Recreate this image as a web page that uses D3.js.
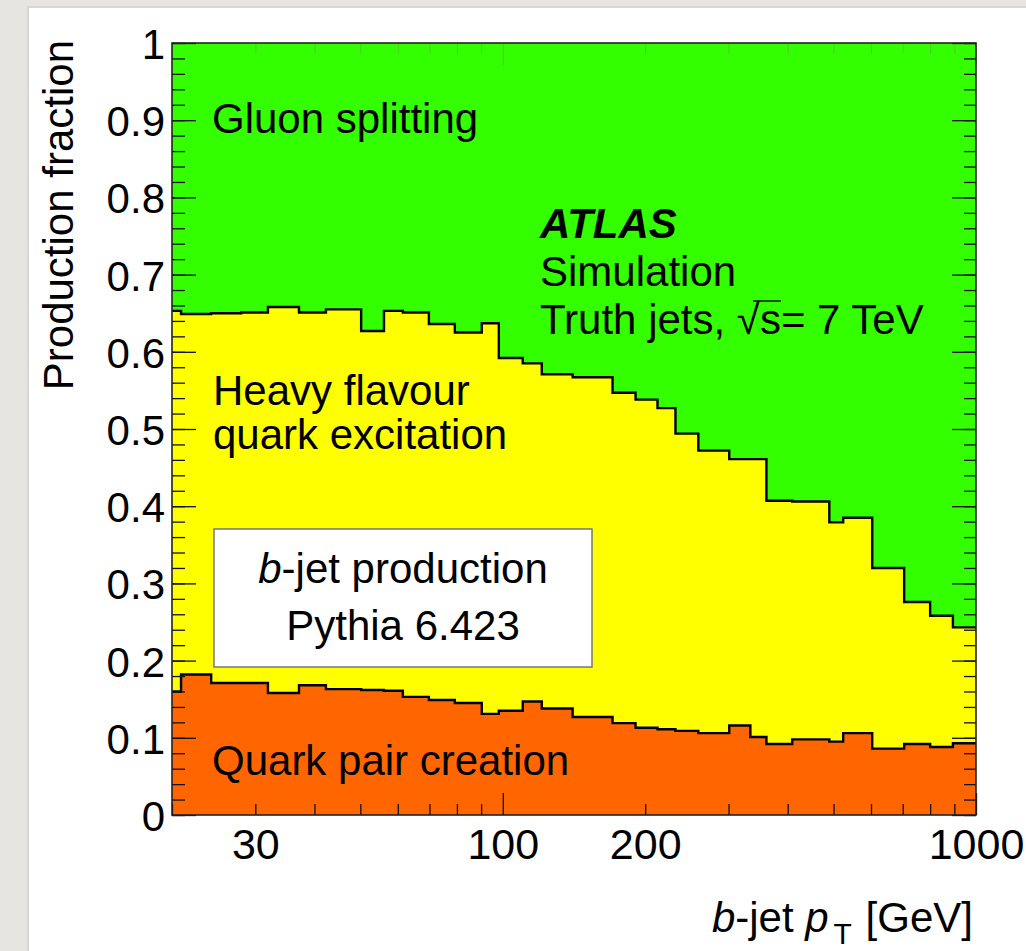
<!DOCTYPE html>
<html>
<head>
<meta charset="utf-8">
<script src="https://cdn.jsdelivr.net/npm/d3@7"></script>
<style>
body { margin: 0; background: #e7e5e1; }
svg { display: block; font-family: "Liberation Sans", Arial, Helvetica, sans-serif; }
</style>
</head>
<body>
<div class="chart"></div>
<script>
// bin edges in GeV (variable width)
var binEdges = [20, 20.9, 24.2, 28, 31.9, 37.1, 42.3, 50.2, 56.1, 61.5, 69.8, 79.2, 90.3, 98.1,
    110.2, 120.9, 140.5, 170.6, 190.8, 212.3, 231.7, 259, 301, 333.6, 360.7, 409, 489.8, 524,
    603.6, 705, 800, 893.8, 1000];

// production fractions per bin
var quarkPair = [0.160, 0.182, 0.171, 0.171, 0.158, 0.168, 0.163, 0.162, 0.161, 0.153, 0.149,
    0.145, 0.131, 0.135, 0.147, 0.138, 0.127, 0.119, 0.113, 0.111, 0.109, 0.106, 0.116, 0.101,
    0.092, 0.098, 0.095, 0.106, 0.086, 0.092, 0.088, 0.093];
var flavourExc = [0.493, 0.467, 0.479, 0.480, 0.500, 0.483, 0.492, 0.465, 0.492, 0.498, 0.487,
    0.480, 0.506, 0.457, 0.438, 0.433, 0.440, 0.428, 0.425, 0.416, 0.385, 0.366, 0.345, 0.360,
    0.315, 0.308, 0.284, 0.279, 0.234, 0.184, 0.170, 0.150];
var gluonSplit = [0.347, 0.351, 0.350, 0.349, 0.342, 0.349, 0.345, 0.373, 0.347, 0.349, 0.364,
    0.375, 0.363, 0.408, 0.415, 0.429, 0.433, 0.453, 0.462, 0.473, 0.506, 0.528, 0.539, 0.539,
    0.593, 0.594, 0.621, 0.615, 0.680, 0.724, 0.742, 0.757];

var xTickLabels = [30, 100, 200, 1000];
var xMajorTicks = [100, 1000];
var xMinorTicks = [20, 30, 40, 50, 60, 70, 80, 90, 200, 300, 400, 500, 600, 700, 800, 900];
var yTickLabels = [0, 0.1, 0.2, 0.3, 0.4, 0.5, 0.6, 0.7, 0.8, 0.9, 1];

var WIDTH = 1026, HEIGHT = 951;
var plot = { left: 172, right: 976, top: 43, bottom: 815 };
var colors = { quark: "#ff6600", flavour: "#ffff00", gluon: "#33ff00" };

var x = d3.scaleLog().domain([20, 1000]).range([plot.left, plot.right]);
var y = d3.scaleLinear().domain([0, 1]).range([plot.bottom, plot.top]);

var svg = d3.select(".chart").append("svg")
    .attr("width", WIDTH)
    .attr("height", HEIGHT);

// slide-like white panel
svg.append("rect").attr("x", 27).attr("y", 6).attr("width", WIDTH).attr("height", HEIGHT).attr("fill", "#d9d7d3");
svg.append("rect").attr("x", 29).attr("y", 8).attr("width", WIDTH).attr("height", HEIGHT).attr("fill", "#fff");

// one row per edge, last edge repeats the last bin (for step curve)
var rows = binEdges.map(function (e, i) {
    var j = Math.min(i, quarkPair.length - 1);
    return { pt: e, quark: quarkPair[j], flavour: flavourExc[j], gluon: gluonSplit[j] };
});
var layers = d3.stack().keys(["quark", "flavour", "gluon"])(rows);

var area = d3.area().curve(d3.curveStepAfter)
    .x(function (d) { return x(d.data.pt); })
    .y0(function (d) { return y(d[0]); })
    .y1(function (d) { return y(d[1]); });
var topLine = d3.line().curve(d3.curveStepAfter)
    .x(function (d) { return x(d.data.pt); })
    .y(function (d) { return y(d[1]); });

svg.append("defs").append("clipPath").attr("id", "clip")
    .append("rect").attr("x", plot.left).attr("y", plot.top)
    .attr("width", plot.right - plot.left).attr("height", plot.bottom - plot.top);

var g = svg.append("g").attr("clip-path", "url(#clip)");
g.selectAll("path.fill").data(layers).enter().append("path")
    .attr("class", "fill")
    .attr("d", area)
    .attr("fill", function (d) { return colors[d.key]; });
g.selectAll("path.edge").data(layers.slice(0, 2)).enter().append("path")
    .attr("class", "edge")
    .attr("d", topLine)
    .attr("fill", "none")
    .attr("stroke", "#000")
    .attr("stroke-width", 2.4);

// axes: ticks inside the frame on all four sides
function noDomain(sel) { sel.select(".domain").remove(); }
function tickStyle(sel) { sel.selectAll(".tick line").attr("stroke", "#111").attr("stroke-width", 1.3); }
function faintTicks(sel) { sel.selectAll(".tick line").attr("stroke", "#777").attr("stroke-width", 0.8).attr("stroke-opacity", 0.45); }

var yMinor = d3.range(0, 1.001, 0.02);
[[d3.axisLeft, plot.left, -13, yMinor], [d3.axisLeft, plot.left, -24, yTickLabels],
 [d3.axisRight, plot.right, -12, yMinor], [d3.axisRight, plot.right, -24, yTickLabels]].forEach(function (a) {
    svg.append("g").attr("transform", "translate(" + a[1] + ",0)")
        .call(a[0](y).tickValues(a[3]).tickSize(a[2]).tickFormat(""))
        .call(noDomain).call(tickStyle);
});
[[d3.axisBottom, plot.bottom, -11, xMinorTicks], [d3.axisBottom, plot.bottom, -22, xMajorTicks]].forEach(function (a) {
    svg.append("g").attr("transform", "translate(0," + a[1] + ")")
        .call(a[0](x).tickValues(a[3]).tickSize(a[2]).tickFormat(""))
        .call(noDomain).call(tickStyle);
});
// top ticks are barely visible in the original
[[-11, xMinorTicks], [-22, xMajorTicks]].forEach(function (a) {
    svg.append("g").attr("transform", "translate(0," + plot.top + ")")
        .call(d3.axisTop(x).tickValues(a[1]).tickSize(a[0]).tickFormat(""))
        .call(noDomain).call(faintTicks);
});

// tick labels
var yLab = svg.append("g").attr("transform", "translate(" + plot.left + ",0)")
    .call(d3.axisLeft(y).tickValues(yTickLabels).tickSize(0).tickPadding(7)
        .tickFormat(function (d) { return d === 0 ? "0" : d === 1 ? "1" : d.toFixed(1); }))
    .call(noDomain);
yLab.selectAll("text").attr("dy", "0.37em").style("font-size", "42px").attr("fill", "#000");
yLab.attr("font-family", null);

var xLab = svg.append("g").attr("transform", "translate(0," + plot.bottom + ")")
    .call(d3.axisBottom(x).tickValues(xTickLabels).tickSize(0).tickPadding(13)
        .tickFormat(d3.format("d")))
    .call(noDomain);
xLab.selectAll("text").style("font-size", "43px").attr("fill", "#000");
xLab.attr("font-family", null);

// frame
svg.append("rect")
    .attr("x", plot.left).attr("y", plot.top)
    .attr("width", plot.right - plot.left).attr("height", plot.bottom - plot.top)
    .attr("fill", "none").attr("stroke", "#222").attr("stroke-width", 1.6);

// labels inside the plot
function label(tx, ty, str, opts) {
    opts = opts || {};
    return svg.append("text")
        .attr("x", tx).attr("y", ty)
        .style("font-size", (opts.size || 42) + "px")
        .style("font-weight", opts.weight || null)
        .style("font-style", opts.style || null)
        .attr("text-anchor", opts.anchor || "start")
        .text(str);
}
label(212, 133, "Gluon splitting");
label(540, 238, "ATLAS", { weight: "bold", style: "italic" });
label(540, 286, "Simulation");
var truth = label(540, 334, "Truth jets, \u221As= 7 TeV");
// overline of the square root
var sIdx = "Truth jets, \u221A".length;
var ext = truth.node().getExtentOfChar(sIdx);
var rootExt = truth.node().getExtentOfChar(sIdx - 1);
svg.append("line")
    .attr("x1", rootExt.x + rootExt.width * 0.7).attr("x2", ext.x + ext.width)
    .attr("y1", 301).attr("y2", 301)
    .attr("stroke", "#000").attr("stroke-width", 1.4);

label(213, 405, "Heavy flavour");
label(213, 449, "quark excitation");
label(212, 775, "Quark pair creation");

// info box
svg.append("rect").attr("x", 214).attr("y", 529).attr("width", 378).attr("height", 138)
    .attr("fill", "#fff").attr("stroke", "#777").attr("stroke-width", 1.5);
var bj = label(403, 583, "", { anchor: "middle" });
bj.append("tspan").style("font-style", "italic").text("b");
bj.append("tspan").text("-jet production");
label(403, 640, "Pythia 6.423", { anchor: "middle" });

// axis titles
var xt = svg.append("text").attr("x", 973).attr("y", 932)
    .attr("text-anchor", "end").style("font-size", "42px");
xt.append("tspan").style("font-style", "italic").text("b");
xt.append("tspan").text("-jet ");
xt.append("tspan").style("font-style", "italic").text("p");
xt.append("tspan").attr("dx", 5).attr("dy", 12).style("font-size", "30px").text("T");
xt.append("tspan").attr("dx", 2).attr("dy", -12).text(" [GeV]");

svg.append("text")
    .attr("transform", "translate(73,40) rotate(-90)")
    .attr("text-anchor", "end")
    .style("font-size", "42px")
    .text("Production fraction");
</script>
</body>
</html>
